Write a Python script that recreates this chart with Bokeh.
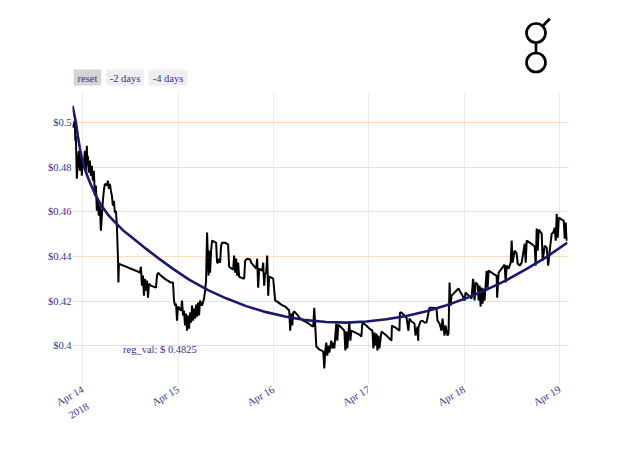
import math
from bokeh.plotting import figure
from bokeh.layouts import column
from bokeh.models import Range1d, FixedTicker, Label, LinearAxis
from bokeh.embed import file_html
from bokeh.resources import INLINE
from bokeh.core.properties import value

# ---- data (hours from 2018-04-14 00:00, price in USD) ----
hours = [
    -2.60, -2.02, -1.89, -1.76, -1.51, -1.26, -1.01, -0.76, -0.50, -0.25, 0.00, 0.25, 0.50, 0.76,
    1.01, 1.13, 1.26, 1.51, 1.76, 2.02, 2.27, 2.52, 2.77, 3.03, 3.28, 3.53, 3.78, 4.03, 4.29,
    4.54, 4.79, 5.04, 5.29, 5.55, 6.05, 6.30, 6.55, 6.81, 7.06, 7.31, 7.56, 7.82, 8.07, 8.32,
    8.57, 8.82, 8.95, 9.08, 9.58, 10.84, 12.10, 13.36, 14.37, 14.62, 14.87, 15.13, 15.38, 15.63,
    15.88, 16.13, 16.39, 16.64, 17.14, 18.40, 18.66, 18.91, 19.66, 20.92, 22.18, 22.69,
    22.94, 23.19, 23.45, 23.70, 23.95, 24.71, 24.96, 25.21, 25.46, 25.71, 25.97, 26.22, 26.47,
    26.72, 26.97, 27.23, 27.48, 27.73, 27.98, 28.24, 28.49, 28.74, 28.99, 29.24, 29.50, 30.00,
    30.50, 30.76, 31.01, 31.26, 31.51, 31.64, 31.76, 32.02, 32.27, 32.52, 33.03, 33.53, 33.78,
    34.03, 34.29, 34.54, 34.79, 35.04, 35.80, 36.55, 36.81, 37.82, 38.07, 38.32, 38.57, 38.82,
    39.08, 39.33, 39.83, 40.59, 40.84, 41.34, 42.10, 42.35, 43.61, 43.87, 44.12, 44.37, 45.13,
    45.38, 45.63, 45.88, 46.13, 46.39, 46.64, 46.89, 47.90, 48.40,
    48.91, 49.92, 50.92, 51.93, 52.18, 52.44, 52.69, 52.94, 53.19, 53.95, 54.45, 55.46, 56.47,
    57.48, 57.98, 58.23, 58.49, 58.74, 59.50, 60.00, 60.50, 60.76, 61.01, 61.26, 61.51, 61.76,
    62.02, 62.52, 62.77, 63.03, 63.28, 63.78, 64.03, 64.29, 65.04, 65.80, 66.05, 66.30, 66.55,
    66.81, 67.06, 67.31, 67.56, 68.57, 69.58, 70.08, 70.34, 71.34,
    72.10, 72.86, 73.11, 73.36, 73.61, 73.87, 74.12, 74.37, 74.62, 75.13, 76.39, 77.65, 77.77,
    78.66, 79.66, 79.79, 80.17, 80.92, 81.43, 81.93, 82.18, 82.69, 83.45, 83.70, 84.20, 84.38,
    84.45, 84.96, 85.46, 85.97, 86.47, 87.23, 87.98, 88.99, 89.24, 89.75, 90.25, 90.50, 91.01,
    91.26, 91.76, 92.02, 92.27, 92.52, 92.77, 93.28, 94.03, 94.54, 94.79, 95.55, 96.05, 96.30,
    96.55,
    97.31, 97.81, 98.19, 98.57, 98.82, 99.33, 99.58, 99.83, 100.08, 100.34, 100.59, 100.84,
    101.09, 101.60, 101.85, 102.10, 102.86, 103.62, 104.12, 104.25, 104.62, 105.38, 106.13,
    106.39, 106.64, 107.14, 107.65, 107.90, 108.15, 108.66, 109.16, 109.41, 109.92, 110.42,
    111.18, 111.43, 111.68, 112.44, 113.19, 113.70, 113.95, 114.20, 114.45, 114.71, 115.46,
    115.71, 116.22, 116.72, 117.10, 117.48, 117.98, 118.36, 118.74, 118.99, 119.24, 119.50,
    119.75, 120.50, 121.00, 121.25, 121.51, 121.76, 121.95,
]
price = [
    0.4978, 0.5009, 0.4919, 0.4942, 0.4749, 0.4830, 0.4874, 0.4785, 0.4852, 0.4762, 0.4839, 0.4807, 0.4874, 0.4785,
    0.4897, 0.4807, 0.4852, 0.4776, 0.4830, 0.4762, 0.4807, 0.4740, 0.4785, 0.4673, 0.4718, 0.4605, 0.4650, 0.4583, 0.4628,
    0.4516, 0.4583, 0.4650, 0.4695, 0.4726, 0.4718, 0.4740, 0.4704, 0.4726, 0.4695, 0.4673, 0.4628, 0.4650, 0.4596, 0.4605,
    0.4538, 0.4404, 0.4283, 0.4368, 0.4363, 0.4354, 0.4345, 0.4336, 0.4327, 0.4354, 0.4269, 0.4314, 0.4224, 0.4300,
    0.4247, 0.4292, 0.4215, 0.4278, 0.4269, 0.4260, 0.4314, 0.4327, 0.4314, 0.4296, 0.4283, 0.4283,
    0.4202, 0.4179, 0.4188, 0.4112, 0.4175, 0.4157, 0.4202, 0.4135, 0.4157, 0.4090, 0.4144, 0.4067, 0.4135,
    0.4076, 0.4148, 0.4103, 0.4179, 0.4112, 0.4166, 0.4121, 0.4184, 0.4130, 0.4193, 0.4135, 0.4202, 0.4179,
    0.4211, 0.4247, 0.4292, 0.4507, 0.4381, 0.4314, 0.4426, 0.4327, 0.4426, 0.4471, 0.4466, 0.4462, 0.4372,
    0.4372, 0.4390, 0.4372, 0.4448, 0.4462, 0.4462, 0.4453, 0.4354, 0.4341, 0.4404, 0.4327, 0.4390, 0.4314,
    0.4372, 0.4309, 0.4305, 0.4300, 0.4381, 0.4390, 0.4386, 0.4372, 0.4345, 0.4390, 0.4260, 0.4345, 0.4336,
    0.4372, 0.4269, 0.4327, 0.4323, 0.4404, 0.4224, 0.4309, 0.4300, 0.4202,
    0.4197, 0.4184, 0.4175, 0.4157, 0.4067, 0.4144, 0.4090, 0.4148, 0.4153, 0.4139, 0.4126, 0.4112, 0.4103,
    0.4090, 0.4085, 0.4170, 0.4085, 0.3996, 0.3982, 0.3978, 0.3973, 0.3897, 0.3978, 0.4013, 0.3955, 0.4000,
    0.3969, 0.4022, 0.3987, 0.4013, 0.3987, 0.4099, 0.4022, 0.4094, 0.4081, 0.4067, 0.3978, 0.4063, 0.3987,
    0.4054, 0.4103, 0.4022, 0.4067, 0.4058, 0.4049, 0.4040, 0.4103, 0.4090,
    0.4076, 0.4067, 0.3987, 0.4058, 0.4000, 0.4054, 0.3978, 0.4045, 0.3987, 0.4063, 0.4045, 0.4022, 0.4090,
    0.4081, 0.4067, 0.4148, 0.4148, 0.4135, 0.4126, 0.4067, 0.4121, 0.4108, 0.4099, 0.4045, 0.4085, 0.4022,
    0.4081, 0.4108, 0.4112, 0.4103, 0.4103, 0.4170, 0.4170, 0.4166, 0.4112, 0.4099, 0.4067, 0.4121, 0.4045,
    0.4090, 0.4045, 0.4054, 0.4283, 0.4179, 0.4224, 0.4233, 0.4247, 0.4256, 0.4247, 0.4224, 0.4202, 0.4238,
    0.4233,
    0.4220, 0.4211, 0.4300, 0.4202, 0.4283, 0.4274, 0.4202, 0.4269, 0.4175, 0.4260, 0.4188, 0.4256,
    0.4202, 0.4336, 0.4260, 0.4336, 0.4327, 0.4318, 0.4314, 0.4215, 0.4327, 0.4345, 0.4363,
    0.4283, 0.4359, 0.4345, 0.4372, 0.4471, 0.4372, 0.4426, 0.4413, 0.4368, 0.4359, 0.4372,
    0.4457, 0.4372, 0.4471, 0.4462, 0.4453, 0.4444, 0.4359, 0.4525, 0.4426, 0.4520, 0.4502,
    0.4381, 0.4448, 0.4439, 0.4359, 0.4426, 0.4502, 0.4507, 0.4529, 0.4471, 0.4592, 0.4484,
    0.4574, 0.4565, 0.4561, 0.4480, 0.4552, 0.4471, 0.4489,
]
reg_hours = [-2.60, -1.76, -1.26, -0.76, -0.25, 0.25, 1.01, 2.02, 3.28, 4.54, 6.30, 8.07, 10.08,
             12.86, 15.88, 19.16, 22.69, 26.72, 31.51, 36.05, 41.09, 46.13, 51.18, 56.22, 61.26,
             66.30, 71.34, 76.39, 81.43, 86.47, 91.51, 96.55, 101.60, 106.64, 111.68, 116.72, 121.95]
reg_price = [0.5076, 0.5004, 0.4942, 0.4888, 0.4843, 0.4807, 0.4767, 0.4722, 0.4673, 0.4632, 0.4588,
             0.4554, 0.4518, 0.4478, 0.4435, 0.4390, 0.4344, 0.4296, 0.4249, 0.4212, 0.4177, 0.4150,
             0.4129, 0.4114, 0.4106, 0.4103, 0.4108, 0.4118, 0.4133, 0.4154, 0.4181, 0.4213, 0.4251,
             0.4294, 0.4344, 0.4398, 0.4462]
day_labels = ["Apr 14", "Apr 15", "Apr 16", "Apr 17", "Apr 18", "Apr 19"]
year_label = "2018"
price_ticks = [0.40, 0.42, 0.44, 0.46, 0.48, 0.50]
price_tick_labels = ["$0.4", "$0.42", "$0.44", "$0.46", "$0.48", "$0.5"]
button_labels = ["reset", "-2 days", "-4 days"]
reg_val = "0.4825"

FONT = "Liberation Serif"
TXT = "#35358a"
FS = "10.5px"
W = 632
LB, RB = 72, 65
HDR_H = 91
ROT = 0.52

# ---- header: range buttons and logo (coordinates = pixels) ----
hdr = figure(width=W, height=HDR_H, x_range=Range1d(LB, W - RB), y_range=Range1d(HDR_H, 0),
             x_axis_type=None, y_axis_type=None, output_backend="svg",
             toolbar_location=None, min_border=0, min_border_left=LB, min_border_right=RB)
hdr.grid.visible = False
hdr.outline_line_color = None
btn_x = [87.0, 124.5, 167.5]
btn_w = [27.4, 37.6, 38.4]
btn_col = ["#d4d4d4", "#eeeeee", "#eeeeee"]
hdr.rect(x=btn_x, y=[77] * 3, width=btn_w, height=[16] * 3, fill_color=btn_col, line_color=None)
hdr.text(x=btn_x, y=[77.5] * 3, text=button_labels, text_align="center", text_baseline="middle",
         text_font=value(FONT), text_font_size=FS, text_color=TXT)
hdr.circle(x=[535.5, 535.5], y=[32.5, 62.0], radius=9.5, fill_color=None,
           line_color="black", line_width=2.7)
hdr.segment(x0=[535.5, 542.7], y0=[42.0, 25.0], x1=[535.5, 549.3], y1=[52.5, 18.3],
            line_color="black", line_width=2.7)

# ---- main chart ----
p = figure(width=W, height=359, x_range=Range1d(min(hours), max(hours)),
           y_range=Range1d(0.38252, 0.51359), output_backend="svg", toolbar_location=None,
           min_border_left=LB, min_border_right=RB, min_border_top=1, min_border_bottom=66)
p.outline_line_color = None
p.background_fill_color = "white"

p.xaxis.ticker = FixedTicker(ticks=[24 * i for i in range(len(day_labels))])
p.xaxis.major_label_overrides = {24 * i: lab for i, lab in enumerate(day_labels)}
p.yaxis.ticker = FixedTicker(ticks=price_ticks)
p.yaxis.major_label_overrides = {t: lab for t, lab in zip(price_ticks, price_tick_labels)}

# second line of the first date label (the year), as an extra axis under the first
year_axis = LinearAxis(ticker=FixedTicker(ticks=[1.25]), major_label_overrides={1.25: year_label})
p.add_layout(year_axis, "below")

for ax in (p.xaxis[0], p.yaxis[0], year_axis):
    ax.axis_line_color = None
    ax.major_tick_line_color = None
    ax.minor_tick_line_color = None
    ax.major_tick_out = 0
    ax.major_tick_in = 0
    ax.major_label_text_font = FONT
    ax.major_label_text_font_size = FS
    ax.major_label_text_color = TXT
p.xaxis[0].major_label_orientation = ROT
p.xaxis[0].major_label_standoff = 4
year_axis.major_label_orientation = ROT
year_axis.major_label_standoff = -10
p.yaxis.major_label_standoff = 1

p.xgrid.grid_line_color = "#ececec"
p.ygrid.grid_line_color = "#fddcbd"

p.line(hours, price, line_color="black", line_width=2.0)
p.line(reg_hours, reg_price, line_color="#191970", line_width=2.6)

p.add_layout(Label(x=19.4, y=0.3984, text="reg_val: $ " + reg_val, text_align="center",
                   text_baseline="middle", text_font=FONT, text_font_size=FS, text_color=TXT))

layout = column(hdr, p, spacing=0)
open("out.html", "w").write(file_html(layout, INLINE))
